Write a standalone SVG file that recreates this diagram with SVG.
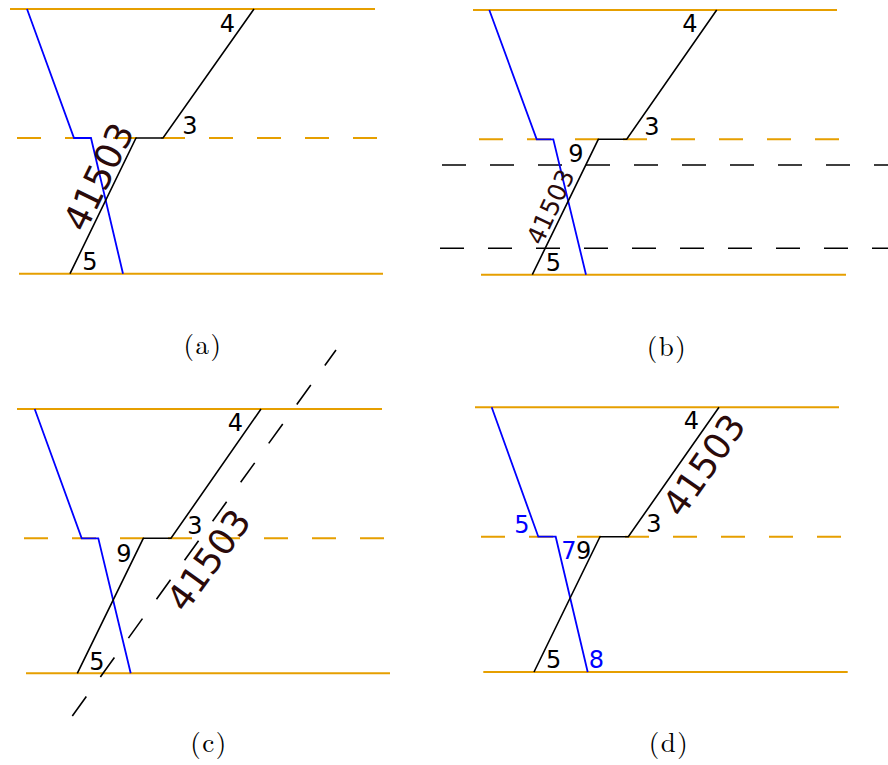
<svg xmlns="http://www.w3.org/2000/svg" width="888" height="765" viewBox="0 0 888 765">
<style>
.or{stroke:#e69f00;stroke-width:2;fill:none}
.ord{stroke:#e69f00;stroke-width:2;fill:none;stroke-dasharray:24 24}
.bkd{stroke:#000;stroke-width:1.6;fill:none;stroke-dasharray:24 24}
.bl{stroke:#0000ff;stroke-width:1.8;fill:none}
.bk{stroke:#000;stroke-width:1.6;fill:none}
.lb{font-family:"DejaVu Sans",sans-serif;font-size:24px;fill:#000;text-anchor:middle}
.lbb{font-family:"DejaVu Sans",sans-serif;font-size:24px;fill:#0000ff;text-anchor:middle}
.big{font-family:"DejaVu Sans",sans-serif;fill:#2a0a0a;text-anchor:middle}
.cap{font-family:"Latin Modern Roman","Liberation Serif",serif;font-size:27px;letter-spacing:1.5px;fill:#000;text-anchor:middle}
</style>
<rect width="888" height="765" fill="#fff"/>
<g id="panel-a">
  <g id="a-connectors">
    <line class="or" x1="10" y1="9" x2="375" y2="9"/>
    <line class="ord" x1="17" y1="138" x2="377" y2="138"/>
    <line class="or" x1="19" y1="273.7" x2="383" y2="273.7"/>
    <polyline class="bl" points="27,9 74,138 91,138 123,273.7"/>
    <polyline class="bk" points="254,9 163,138 136,138 70,273.7"/>
  </g>
  <text class="lb" x="227.5" y="32">4</text>
  <text class="lb" x="190" y="134">3</text>
  <text class="lb" x="90" y="270">5</text>
  <text class="big" font-size="36" transform="translate(98.3,176.7) rotate(-64)" x="0" y="13">41503</text>
  <text class="cap" x="203" y="354">(a)</text>
</g>
<g id="panel-b">
  <g id="b-connectors">
    <line class="or" x1="473" y1="10" x2="837" y2="10"/>
    <line class="ord" x1="479" y1="139.3" x2="839" y2="139.3"/>
    <line class="or" x1="481" y1="274.7" x2="846" y2="274.7"/>
    <line class="bkd" x1="442" y1="165" x2="900" y2="165"/>
    <line class="bkd" x1="440" y1="248.3" x2="900" y2="248.3"/>
    <polyline class="bl" points="489.3,10 536.7,139.3 553.3,139.3 586,274.7"/>
    <polyline class="bk" points="716.7,10 626.7,139.3 598.3,139.3 532.3,274.7"/>
  </g>
  <text class="lb" x="690" y="32">4</text>
  <text class="lb" x="652" y="135">3</text>
  <text class="lb" x="576" y="162">9</text>
  <text class="lb" x="553.5" y="270.7">5</text>
  <text class="big" font-size="25" transform="translate(550.3,206.7) rotate(-65)" x="0" y="9">41503</text>
  <text class="cap" x="667" y="356">(b)</text>
</g>
<g id="panel-c">
  <g id="c-connectors">
    <line class="or" x1="17" y1="409" x2="382" y2="409"/>
    <line class="ord" x1="24" y1="538.3" x2="384" y2="538.3"/>
    <line class="or" x1="26" y1="673.3" x2="390" y2="673.3"/>
    <line class="bkd" x1="72.3" y1="716" x2="336" y2="350"/>
    <polyline class="bl" points="34.7,409 81.7,538.3 98.3,538.3 130.7,673.3"/>
    <polyline class="bk" points="261,409 171,538.3 143.3,538.3 77.3,673.3"/>
  </g>
  <text class="lb" x="235.5" y="430.7">4</text>
  <text class="lb" x="195" y="534">3</text>
  <text class="lb" x="124" y="561.7">9</text>
  <text class="lb" x="97" y="670">5</text>
  <text class="big" font-size="36" transform="translate(208.3,560) rotate(-54)" x="0" y="13">41503</text>
  <text class="cap" x="209" y="752">(c)</text>
</g>
<g id="panel-d">
  <g id="d-connectors">
    <line class="or" x1="475" y1="407.3" x2="839" y2="407.3"/>
    <line class="ord" x1="481" y1="536.7" x2="841" y2="536.7"/>
    <line class="or" x1="483.3" y1="672" x2="847.7" y2="672"/>
    <polyline class="bl" points="491.7,407.3 538.3,536.7 555.7,536.7 587.7,672"/>
    <polyline class="bk" points="719,407.3 628.3,536.7 600,536.7 534,672"/>
  </g>
  <text class="lb" x="691.5" y="429.3">4</text>
  <text class="lb" x="654" y="531.7">3</text>
  <text class="lb" x="583.7" y="559.3">9</text>
  <text class="lbb" x="569" y="559.3">7</text>
  <text class="lbb" x="522" y="532.7">5</text>
  <text class="lb" x="553.7" y="668.3">5</text>
  <text class="lbb" x="596.3" y="668.3">8</text>
  <text class="big" font-size="36" transform="translate(703.7,465) rotate(-55)" x="0" y="13">41503</text>
  <text class="cap" x="669" y="752">(d)</text>
</g>
</svg>
